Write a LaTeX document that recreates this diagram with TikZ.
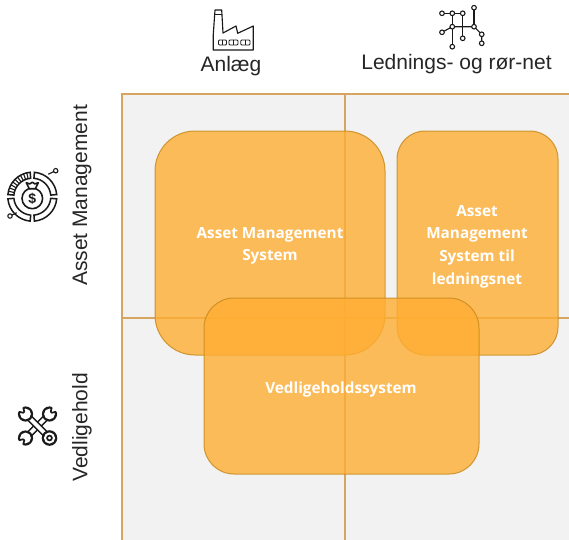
\documentclass[tikz,border=0pt]{standalone}
\usepackage{fontspec}
\setmainfont{Liberation Sans}
\newfontfamily\boxfont{Open Sans}
\definecolor{gridline}{HTML}{D6A661}
\definecolor{cellfill}{HTML}{F2F2F2}
\definecolor{boxfill}{HTML}{FFAE33}
\definecolor{boxline}{HTML}{C98A1E}
\definecolor{iconink}{HTML}{1A1A1A}
\tikzset{
  cellbox/.style={draw=gridline,fill=cellfill,line width=1.2pt},
  sysbox/.style={draw=boxline,fill=boxfill,fill opacity=.8,draw opacity=.85,line width=1pt},
  systext/.style={text=white,font=\boxfont\bfseries\fontsize{15.3}{22.6}\selectfont,align=center},
  headtext/.style={text=black!85,font=\fontsize{21}{25}\selectfont},
  sidetext/.style={text=black!85,font=\fontsize{21}{25}\selectfont,rotate=90},
  ink/.style={draw=iconink,line width=1.15pt,line join=round},
  dotnode/.style={circle,draw=iconink,fill=white,line width=1.1pt,minimum size=5pt,inner sep=0pt},
  ringseg/.style={draw=iconink,line width=1.5pt},
}
\begin{document}
\begin{tikzpicture}[x=1pt,y=-1pt]
\useasboundingbox (0,0) rectangle (569,539);
\path[fill=white] (0,0) rectangle (569,539);
% grid
\path[cellbox] (122,94) rectangle (345,318);
\path[cellbox] (345,94) rectangle (575,318);
\path[cellbox] (122,318) rectangle (345,545);
\path[cellbox] (345,318) rectangle (575,545);
% systems
\path[sysbox,rounded corners=40pt] (155,131) rectangle (385,355);
\path[sysbox,rounded corners=28pt] (397,131) rectangle (558,355);
\path[sysbox,rounded corners=30pt] (204,298) rectangle (479,474);
\node[systext] (ams) at (270,246) {Asset Management\\System};
\node[systext] (amsnet) at (477,246.5) {Asset\\Management\\System til\\ledningsnet};
\node[systext] (vedl) at (341,389.5) {Vedligeholdssystem};
% headings
\node[headtext] (anlaeg) at (231,66.5) {Anlæg};
\node[headtext] (lednet) at (456.5,64.5) {Lednings- og rør-net};
\node[sidetext] (am) at (82,195.5) {Asset Management};
\node[sidetext] (vh) at (82,427.5) {Vedligehold};
% factory icon
\draw[ink] (215,10) -- (221.7,10) -- (223,33) -- (236,26) -- (237.7,33.3) -- (253.3,26) -- (253.3,50) -- (213.3,50) -- (213.3,34) -- cycle;
\draw[ink,line width=.8pt] (214.8,14.3) -- (222,14.3);
\foreach \xa/\xb in {218.5/226.5,229/238,240.7/250}{
  \draw[ink,line width=.8pt,rounded corners=1pt] (\xa,40) rectangle (\xb,45);
  \draw[ink,line width=.8pt] ({(\xa+\xb)/2},40) -- ({(\xa+\xb)/2},45);
}
% network icon
\coordinate (n1) at (442,13.3);
\coordinate (n2) at (452.3,13.3);
\coordinate (n3) at (462.7,13.3);
\coordinate (n4) at (474,7.7);
\coordinate (n5) at (452.3,26.7);
\coordinate (n6) at (474,26.7);
\coordinate (n7) at (442,32.3);
\coordinate (n8) at (462.7,38.3);
\coordinate (n9) at (481.7,34.3);
\coordinate (n10) at (481.7,43.3);
\coordinate (n11) at (452.3,46.7);
\draw[ink] (n1) -- (n2) -- (n3) -- (n8);
\draw[ink] (n2) -- (n11);
\draw[ink] (n7) -- (n5) -- (n6) -- (n9) -- (n10);
\draw[ink] (n4) -- (n6);
\foreach \n in {n1,n2,n3,n4,n5,n6,n7,n8,n9,n10,n11}{\node[dotnode,minimum size=4.6pt] at (\n) {};}
% money icon
\begin{scope}[shift={(32.3,196.7)}]
  \foreach \a/\b in {95/175,5/85,185/265,275/355}{
    \draw[ringseg,y=1pt] (\a:24.5) arc[start angle=\a,end angle=\b,radius=24.5] -- (\b:18.5) arc[start angle=\b,end angle=\a,radius=18.5] -- cycle;
  }
  \foreach \a in {103,111,...,167}{\draw[ringseg,y=1pt,line width=1.1pt] (\a:18.5) -- (\a:24.5);}
  \draw[ink,line width=1.6pt] (0,1.7) circle[radius=10.3];
  \draw[ink,line width=1.6pt,fill=white] (-3,-8) -- (-6,-14) -- (-2.5,-12.8) -- (0,-14.5) -- (2.5,-12.8) -- (6,-14) -- (3,-8) -- cycle;
  \node[font=\bfseries\fontsize{14}{14}\selectfont,text=iconink,inner sep=0pt] (dollar) at (0,2.2) {\$};
  \coordinate (mtip1) at (23.4,-26);
  \coordinate (mtip2) at (-22.3,19.3);
  \draw[ink] (16,-22.5) -- (mtip1);
  \draw[ink] (-15.6,16) -- (mtip2);
  \node[dotnode,minimum size=4.4pt] at (mtip1) {};
  \node[dotnode,minimum size=4.4pt] at (mtip2) {};
\end{scope}
% wrench icon
\begin{scope}[shift={(37.5,426)}]
  \draw[iconink,line width=7pt] (12,-12) -- (-12,12);
  \draw[white,line width=3.8pt] (12,-12) -- (-12,12);
  \draw[iconink,line width=7pt] (-12,-12) -- (12,12);
  \draw[white,line width=3.8pt] (-12,-12) -- (12,12);
  \foreach \cx/\cy/\rot in {-12/-12/135,12/-12/45,-12/12/225}{
    \fill[iconink] (\cx,\cy) circle[radius=7.6];
    \fill[white] (\cx,\cy) circle[radius=5.4];
    \begin{scope}[shift={(\cx,\cy)},y=1pt]
      \fill[white] (0,0) -- (\rot-26:11) -- (\rot+26:11) -- cycle;
      \draw[iconink,line width=1.7pt,line join=round] (\rot-26:7) -- (\rot-16:2.6) -- (\rot+16:2.6) -- (\rot+26:7);
    \end{scope}
  }
  \fill[iconink] (12,12) circle[radius=7.8];
  \fill[white] (12,12) circle[radius=5.6];
  \draw[iconink,line width=1.7pt] (12,12) circle[radius=2.4];
\end{scope}
\end{tikzpicture}
\end{document}
